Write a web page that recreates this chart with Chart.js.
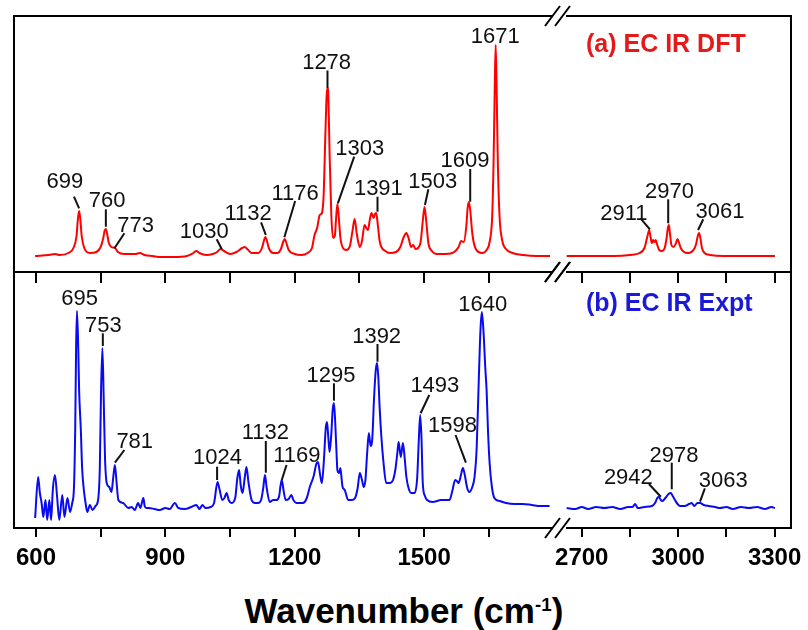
<!DOCTYPE html>
<html>
<head>
<meta charset="utf-8">
<script src="https://cdn.jsdelivr.net/npm/chart.js@4.4.1/dist/chart.umd.min.js"></script>
<style>
  body { margin: 0; background: #fff; overflow: hidden; }
  #wrap { position: relative; width: 808px; height: 630px; overflow: hidden; background: #fff; }
  canvas { position: absolute; }
  #xtitle {
    position: absolute; left: 0; width: 808px; top: 593px; text-align: center;
    font: bold 35px "Liberation Sans", Arial, sans-serif; line-height: 35px; color: #000;
  }
  #xtitle span { font-size: 19px; position: relative; top: -12px; }
</style>
</head>
<body>
<div id="wrap">
  <canvas id="topLow" width="580" height="290" style="left:0;top:0"></canvas>
  <canvas id="botLow" width="580" height="316" style="left:0;top:262px"></canvas>
  <canvas id="topHigh" width="290" height="290" style="left:530px;top:0"></canvas>
  <canvas id="botHigh" width="290" height="316" style="left:530px;top:262px"></canvas>
  <div id="xtitle">Wavenumber (cm<span>-1</span>)</div>
</div>
<script>
// ---- data: [wavenumber, intensity (arb.)] ----
const dftLow = [
  [598,0],[630,1],[644,2],[655,1],[675,3],[688,9],[694,20],[697,36],[700,45],[703,36],[706,20],[712,8],
  [725,3],[740,4],[750,9],[756,18],[759,25],[762,27],[765,22],[769,13],[775,9],[783,8],[790,4],[805,2],
  [830,2],[841,3],[852,1],[870,0],[890,-1],[920,-1],[950,0],[965,3],[972,5],[979,3],[995,1],[1010,2],
  [1020,4],[1028,7],[1036,5],[1050,2],[1065,4],[1078,8],[1084,9],[1090,7],[1100,3],[1115,3],[1124,8],
  [1129,16],[1132,19],[1135,16],[1140,8],[1150,3],[1160,3],[1168,7],[1174,15],[1177,17],[1180,14],
  [1186,6],[1200,2],[1215,1],[1230,3],[1240,8],[1246,21],[1252,28],[1258,41],[1263,43],[1267,60],
  [1271,120],[1274,160],[1276,168],[1278,160],[1281,100],[1285,40],[1289,18],[1293,20],[1296,38],
  [1299,52],[1302,40],[1306,18],[1312,8],[1320,6],[1328,10],[1334,25],[1339,37],[1344,22],[1351,9],
  [1356,15],[1362,31],[1366,28],[1370,26],[1374,36],[1378,43],[1383,38],[1386,42],[1389,43],[1393,30],
  [1397,15],[1401,9],[1410,5],[1420,3],[1435,4],[1445,9],[1452,18],[1459,23],[1464,18],[1470,9],
  [1475,11],[1480,7],[1486,8],[1492,14],[1497,35],[1501,49],[1505,35],[1510,13],[1518,5],[1530,2],
  [1550,2],[1570,4],[1580,9],[1586,15],[1592,14],[1598,30],[1601,48],[1604,54],[1607,46],[1612,22],
  [1620,7],[1635,3],[1645,6],[1652,14],[1658,40],[1661,90],[1664,170],[1666,211],[1668,175],[1671,95],
  [1675,40],[1681,16],[1690,7],[1705,3],[1730,1],[1760,0],[1792,0]
];
const dftHigh = [
  [2653,0],[2700,0],[2800,0],[2850,1],[2880,3],[2895,8],[2903,18],[2910,26],[2914,19],[2918,13],
  [2922,16],[2926,14],[2930,16],[2935,11],[2941,6],[2949,5],[2958,8],[2964,18],[2968,28],[2971,31],
  [2974,24],[2979,11],[2985,9],[2992,12],[2998,17],[3002,14],[3008,8],[3018,4],[3031,3],[3045,5],
  [3055,11],[3061,20],[3065,23],[3069,18],[3074,8],[3082,3],[3100,1],[3140,0],[3200,0],[3301,0]
];
const exptLow = [
  [598,-10],[605,31],[609,15],[613,5],[617,-9],[622,8],[626,-12],[631,8],[635,-12],[639,18],[644,33],
  [649,11],[654,-12],[661,13],[666,-9],[673,10],[679,-4],[684,5],[688,20],[691,80],[693,160],[695,197],
  [698,160],[700,118],[704,78],[707,40],[711,18],[715,5],[719,-4],[725,3],[731,-2],[738,2],[744,8],
  [748,40],[751,120],[754,160],[757,110],[760,51],[764,25],[770,21],[775,16],[779,30],[783,43],[787,25],
  [791,8],[802,5],[814,0],[822,1],[829,-2],[837,5],[842,0],[849,10],[852,2],[856,0],[861,0],[875,-1],
  [887,-2],[900,0],[910,-1],[922,5],[930,0],[945,-1],[960,1],[972,3],[979,-1],[986,3],[993,0],[1005,1],
  [1013,5],[1021,26],[1026,18],[1032,8],[1037,10],[1042,15],[1047,8],[1053,5],[1062,10],[1067,30],
  [1071,38],[1075,22],[1079,15],[1084,30],[1088,41],[1093,25],[1100,8],[1108,5],[1115,5],[1122,8],
  [1127,20],[1131,33],[1135,20],[1142,6],[1150,8],[1158,8],[1164,12],[1167,22],[1170,28],[1174,18],
  [1179,8],[1186,9],[1192,13],[1197,8],[1204,5],[1219,5],[1228,10],[1235,21],[1244,32],[1250,44],
  [1254,46],[1259,33],[1263,25],[1268,50],[1272,80],[1275,86],[1278,70],[1281,56],[1285,75],[1288,98],
  [1291,105],[1294,85],[1297,55],[1299,38],[1303,35],[1306,40],[1309,28],[1311,21],[1316,18],[1324,8],
  [1332,8],[1340,10],[1346,20],[1351,35],[1356,28],[1360,21],[1364,28],[1368,55],[1372,75],[1376,62],
  [1380,70],[1384,110],[1388,138],[1391,145],[1394,130],[1397,100],[1401,71],[1406,45],[1412,25],
  [1420,25],[1428,28],[1434,40],[1438,55],[1441,66],[1446,51],[1451,65],[1455,50],[1459,31],[1464,20],
  [1470,15],[1478,15],[1484,30],[1488,70],[1491,93],[1494,70],[1497,25],[1502,12],[1507,8],[1520,6],
  [1540,8],[1559,8],[1566,18],[1572,28],[1576,27],[1580,25],[1585,32],[1590,40],[1594,34],[1600,20],
  [1605,16],[1611,20],[1617,31],[1622,60],[1627,130],[1631,180],[1634,196],[1638,175],[1642,140],
  [1645,118],[1648,80],[1652,45],[1657,22],[1663,10],[1675,7],[1690,5],[1710,4],[1729,4],[1750,3],
  [1770,2],[1791,2]
];
const exptHigh = [
  [2653,0],[2680,-1],[2700,1],[2720,-1],[2745,1],[2770,0],[2795,1],[2820,-1],[2845,1],[2858,1],
  [2866,4],[2874,0],[2895,1],[2918,2],[2928,5],[2935,10],[2940,11],[2946,8],[2951,7],[2960,10],
  [2970,14],[2977,15],[2983,12],[2990,8],[2998,4],[3006,2],[3020,2],[3034,4],[3042,5],[3050,2],
  [3060,5],[3068,5],[3080,3],[3095,2],[3115,1],[3130,0],[3150,1],[3170,-1],[3195,1],[3220,0],
  [3245,1],[3270,-1],[3290,1],[3301,0]
];

// tick positions of the broken axis
const lowTicks = [600, 750, 900, 1050, 1200, 1350, 1500, 1650];
const highTicks = [2700, 2850, 3000, 3150, 3300];

// peak labels: text, label x, label y, then leader line x1, y1, x2, y2 (data units)
const dftLowLabels = [
  ["699", 667, 67.7, 688, 59.3, 700, 47.7],
  ["760", 765, 49.3, 762, 46.7, 762, 29.3],
  ["773", 831, 24.3, 805, 22.7, 782, 7.7],
  ["1030", 990, 17.7, 1019, 16.7, 1031, 6.7],
  ["1132", 1092, 36, 1122, 33.7, 1133, 21],
  ["1176", 1201, 56, 1201, 55, 1176, 18.7],
  ["1278", 1274, 187, 1276, 185.5, 1276, 168],
  ["1303", 1351, 101, 1338, 99.3, 1300, 52.7],
  ["1391", 1394, 61, 1392, 59.3, 1392, 44.3],
  ["1503", 1520, 67.7, 1510, 66.7, 1502, 51],
  ["1609", 1595, 88.7, 1607, 87, 1607, 54.3],
  ["1671", 1665, 212.7]
];
const dftHighLabels = [
  ["2911", 2831, 36, 2883, 37.7, 2912, 26.7],
  ["2970", 2973, 57.7, 2969, 56.7, 2969, 32.7],
  ["3061", 3130, 37.7, 3078, 36.7, 3062, 26]
];
const exptLowLabels = [
  ["695", 701, 203],
  ["753", 756, 176.3, 755, 174.7, 755, 162],
  ["781", 829, 59.7, 805, 58, 783, 45.3],
  ["1024", 1021, 44, 1020, 41.3, 1020, 28],
  ["1132", 1132, 69, 1133, 67, 1133, 35.3],
  ["1169", 1205, 46.3, 1181, 43, 1170, 28],
  ["1295", 1284, 126.3, 1291, 124.7, 1291, 107.3],
  ["1392", 1390, 164.7, 1392, 164, 1392, 146.3],
  ["1493", 1525, 115.7, 1512, 113, 1492, 94.7],
  ["1598", 1566, 76.3, 1573, 73, 1597, 45.3],
  ["1640", 1636, 197.3]
];
const exptHighLabels = [
  ["2942", 2845, 24, 2909, 24, 2946, 11.3],
  ["2978", 2987, 46.3, 2980, 45.3, 2980, 18.7],
  ["3063", 3140, 21.3, 3083, 19.7, 3068, 6.3]
];

const FONT = '"Liberation Sans", Arial, sans-serif';
const RED = "#ff0000";
const BLUE = "#0a0af0";

// draws the box around each panel and the axis-break marks
const framePlugin = {
  id: "frame",
  afterDraw(chart, args, opts) {
    const { ctx } = chart;
    const { left, right, top, bottom } = chart.chartArea;
    ctx.save();
    ctx.strokeStyle = "#000";
    ctx.lineWidth = 2;
    ctx.beginPath();
    if (opts.side === "left") {
      ctx.moveTo(right, top);
      ctx.lineTo(left, top);
      ctx.lineTo(left, bottom);
      ctx.lineTo(right, bottom);
    } else {
      ctx.moveTo(left, top);
      ctx.lineTo(right, top);
      ctx.lineTo(right, bottom);
      ctx.lineTo(left, bottom);
    }
    ctx.stroke();
    if (opts.side === "left") {
      ctx.beginPath();
      [top, bottom].forEach((yy) => {
        [right - 8, right + 2].forEach((x0) => {
          ctx.moveTo(x0, yy + 10);
          ctx.lineTo(x0 + 15, yy - 10);
        });
      });
      ctx.stroke();
    }
    ctx.restore();
  },
};

// peak labels with leader lines, plus the panel title
const peakLabelPlugin = {
  id: "peakLabels",
  afterDatasetsDraw(chart, args, opts) {
    const { ctx } = chart;
    const x = chart.scales.x;
    const y = chart.scales.y;
    ctx.save();
    ctx.font = "22px " + FONT;
    ctx.fillStyle = "#111";
    ctx.strokeStyle = "#111";
    ctx.lineWidth = 2;
    ctx.textAlign = "center";
    ctx.textBaseline = "alphabetic";
    (opts.labels || []).forEach(([text, lx, ly, x1, y1, x2, y2]) => {
      ctx.fillText(text, x.getPixelForValue(lx), y.getPixelForValue(ly));
      if (x1 !== undefined) {
        ctx.beginPath();
        ctx.moveTo(x.getPixelForValue(x1), y.getPixelForValue(y1));
        ctx.lineTo(x.getPixelForValue(x2), y.getPixelForValue(y2));
        ctx.stroke();
      }
    });
    if (opts.title) {
      ctx.font = "bold 25px " + FONT;
      ctx.textAlign = "left";
      ctx.fillStyle = opts.titleColor;
      ctx.fillText(opts.title, chart.chartArea.left + opts.titleDx, chart.chartArea.top + opts.titleDy);
    }
    ctx.restore();
  },
};

function makePanel(id, cfg) {
  return new Chart(document.getElementById(id), {
    type: "line",
    data: {
      datasets: [
        {
          data: cfg.data.map(([wn, v]) => ({ x: wn, y: v })),
          borderColor: cfg.color,
          borderWidth: 2,
          pointRadius: 0,
          cubicInterpolationMode: "monotone",
          fill: false,
        },
      ],
    },
    options: {
      responsive: false,
      devicePixelRatio: 1,
      animation: false,
      events: [],
      layout: { padding: cfg.padding },
      scales: {
        x: {
          type: "linear",
          min: cfg.min,
          max: cfg.max,
          afterBuildTicks: (s) => {
            s.ticks = cfg.ticks.map((v) => ({ value: v }));
          },
          ticks: {
            display: cfg.showLabels,
            autoSkip: false,
            maxRotation: 0,
            padding: 7,
            color: "#000",
            font: { family: FONT, size: 24, weight: "bold" },
            callback: (v) => (v % 300 === 0 ? String(v) : ""),
          },
          grid: {
            drawOnChartArea: false,
            drawTicks: true,
            tickLength: cfg.tickLength,
            color: "#000",
            lineWidth: 2,
          },
          border: { display: false },
          afterFit: (s) => {
            s.height = cfg.axisHeight;
            s.paddingLeft = 0;
            s.paddingRight = 0;
          },
        },
        y: { display: false, min: cfg.ymin, max: cfg.ymax },
      },
      plugins: {
        legend: { display: false },
        tooltip: { enabled: false },
        frame: { side: cfg.side },
        peakLabels: {
          labels: cfg.labels,
          title: cfg.title,
          titleColor: cfg.color === RED ? "#e41a1a" : "#1a1ad6",
          titleDx: 20,
          titleDy: cfg.titleDy,
        },
      },
    },
    plugins: [framePlugin, peakLabelPlugin],
  });
}

makePanel("topLow", {
  data: dftLow, color: RED, labels: dftLowLabels, side: "left",
  min: 549, max: 1799, ticks: lowTicks, showLabels: false,
  ymin: -16, ymax: 240, tickLength: 11, axisHeight: 18,
  padding: { left: 14, top: 16, right: 27, bottom: 0 },
});
makePanel("topHigh", {
  data: dftHigh, color: RED, labels: dftHighLabels, side: "right",
  min: 2651, max: 3351, ticks: highTicks, showLabels: false,
  ymin: -16, ymax: 240, tickLength: 11, axisHeight: 18,
  padding: { left: 36, top: 16, right: 29, bottom: 0 },
  title: "(a) EC IR DFT", titleDy: 36,
});
makePanel("botLow", {
  data: exptLow, color: BLUE, labels: exptLowLabels, side: "left",
  min: 549, max: 1799, ticks: lowTicks, showLabels: true,
  ymin: -20, ymax: 236, tickLength: 9, axisHeight: 50,
  padding: { left: 14, top: 10, right: 27, bottom: 0 },
});
makePanel("botHigh", {
  data: exptHigh, color: BLUE, labels: exptHighLabels, side: "right",
  min: 2651, max: 3351, ticks: highTicks, showLabels: true,
  ymin: -20, ymax: 236, tickLength: 9, axisHeight: 50,
  padding: { left: 36, top: 10, right: 29, bottom: 0 },
  title: "(b) EC IR Expt", titleDy: 39,
});
</script>
</body>
</html>
